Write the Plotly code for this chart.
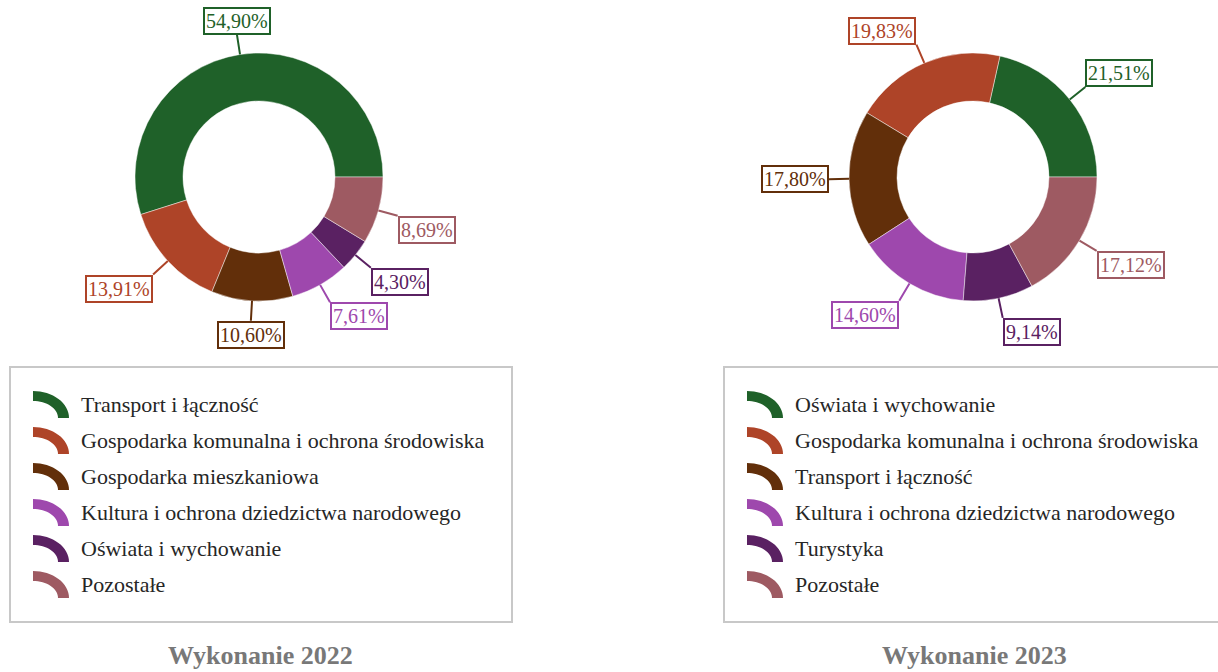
import math
import plotly.graph_objects as go

# ---------------- data ----------------
labels_2022 = ["Transport i łączność", "Gospodarka komunalna i ochrona środowiska",
               "Gospodarka mieszkaniowa", "Kultura i ochrona dziedzictwa narodowego",
               "Oświata i wychowanie", "Pozostałe"]
values_2022 = [54.90, 13.91, 10.60, 7.61, 4.30, 8.69]

labels_2023 = ["Oświata i wychowanie", "Gospodarka komunalna i ochrona środowiska",
               "Transport i łączność", "Kultura i ochrona dziedzictwa narodowego",
               "Turystyka", "Pozostałe"]
values_2023 = [21.51, 19.83, 17.80, 14.60, 9.14, 17.12]

titles = ["Wykonanie 2022", "Wykonanie 2023"]

colors = ["#1F6129", "#AE4428", "#622F0A", "#9E48AD", "#5A2162", "#9E5A62"]

# ---------------- layout constants ----------------
W, H = 1218, 672
FONT = "Liberation Serif, Times New Roman, serif"
R_OUT = 124
HOLE = 0.613
CY = 177
CXS = [259, 973]
OFFSET = 714  # horizontal offset of the second panel


def px(x):
    return x / W


def py(y):
    return 1 - y / H


def fmt(v):
    return f"{v:.2f}".replace(".", ",") + "%"


fig = go.Figure()
annotations = []
shapes = []

datasets = [(labels_2022, values_2022), (labels_2023, values_2023)]

for k, (labs, vals) in enumerate(datasets):
    cx = CXS[k]
    total = sum(vals)
    # plotly (counterclockwise): first slice spans clockwise [rotation, rotation+v0];
    # we want the first slice to start at 3 o'clock and run counterclockwise.
    rot = 90 + 360 * (1 - vals[0] / total)
    rot = ((rot + 180) % 360) - 180
    fig.add_trace(go.Pie(
        labels=labs, values=vals, sort=False, direction="counterclockwise",
        rotation=rot, hole=HOLE, textinfo="none", showlegend=False,
        marker=dict(colors=colors, line=dict(color="rgba(255,255,255,0.45)", width=1)),
        domain=dict(x=[px(cx - R_OUT), px(cx + R_OUT)],
                    y=[py(CY + R_OUT), py(CY - R_OUT)]),
        hoverinfo="label+percent",
    ))

    # outside labels with leader lines
    cum = 0.0
    for i, v in enumerate(vals):
        mid = (cum + v / 2) / total * 2 * math.pi
        cum += v
        c, s = math.cos(mid), math.sin(mid)
        ex, ey = cx + R_OUT * c, CY - R_OUT * s
        L = 20
        xa = "left" if c > 0.18 else ("right" if c < -0.18 else "center")
        ya = "bottom" if s > 0.1 else ("top" if s < -0.1 else "middle")
        annotations.append(dict(
            x=px(ex), y=py(ey), xref="paper", yref="paper",
            ax=L * c, ay=-L * s, axref="pixel", ayref="pixel",
            text=fmt(v), showarrow=True, arrowhead=0, arrowwidth=2,
            arrowcolor=colors[i], standoff=0, startstandoff=0,
            xanchor=xa, yanchor=ya,
            font=dict(family=FONT, size=20, color=colors[i]),
            bordercolor=colors[i], borderwidth=2, borderpad=1, bgcolor="white",
        ))

    # legend box
    ox = OFFSET * k
    shapes.append(dict(type="rect", xref="paper", yref="paper",
                       x0=px(10 + ox), x1=px(512 + ox - (1 if k else 0)),
                       y0=py(622), y1=py(367),
                       line=dict(color="#c8c8c8", width=2), fillcolor="white", layer="below"))
    for i, lab in enumerate(labs):
        row_y = 404 + 36 * i
        icx, icy = 33 + ox, row_y + 14
        pts = []
        n = 16
        for j in range(n + 1):
            t = math.pi / 2 - j * (math.pi / 2) / n
            pts.append((icx + 36 * math.cos(t), icy - 27 * math.sin(t)))
        for j in range(n + 1):
            t = j * (math.pi / 2) / n
            pts.append((icx + 25 * math.cos(t), icy - 17 * math.sin(t)))
        path = "M" + " L".join(f"{px(a):.5f},{py(b):.5f}" for a, b in pts) + " Z"
        shapes.append(dict(type="path", xref="paper", yref="paper", path=path,
                           fillcolor=colors[i], line=dict(width=0)))
        annotations.append(dict(
            x=px(79 + ox), y=py(row_y), xref="paper", yref="paper",
            text=lab, showarrow=False, xanchor="left", yanchor="middle",
            font=dict(family=FONT, size=22, color="#262626"),
        ))

    # panel title
    annotations.append(dict(
        x=px(260 + ox), y=0, xref="paper", yref="paper",
        text=f"<b>{titles[k]}</b>", showarrow=False, xanchor="center", yanchor="bottom",
        font=dict(family=FONT, size=26, color="#787878"),
    ))

fig.update_layout(
    width=W, height=H, margin=dict(l=0, r=0, t=0, b=0),
    paper_bgcolor="white", plot_bgcolor="white",
    annotations=annotations, shapes=shapes,
    font=dict(family=FONT),
)

fig.write_html("out.html", config={"displayModeBar": False},
               post_script="document.body.style.margin='0';document.body.style.overflow='hidden';")
